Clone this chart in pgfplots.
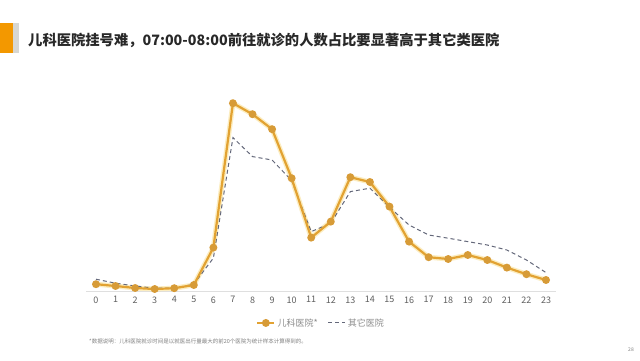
\documentclass[border=0pt]{standalone}
\usepackage{pgfplots}
\pgfplotsset{compat=1.18}
\usepackage{fontspec}
\setmainfont{Noto Sans CJK SC}
\definecolor{ped}{RGB}{226,162,50}
\definecolor{pedmark}{RGB}{215,155,55}
\definecolor{pedglow}{RGB}{250,225,150}
\definecolor{oth}{RGB}{100,104,122}
\definecolor{barorange}{RGB}{243,152,0}
\definecolor{bargray}{RGB}{215,215,210}
\definecolor{txt}{RGB}{40,40,40}
\definecolor{tick}{RGB}{95,95,95}
\begin{document}
\begin{tikzpicture}
\useasboundingbox[fill=white] (0pt,0pt) rectangle (640pt,360pt);
\fill[barorange] (0pt,307pt) rectangle (12.6pt,337.3pt);
\fill[bargray] (13.3pt,307pt) rectangle (19pt,337.3pt);
\node[anchor=west, text=txt, font=\bfseries\fontsize{14.3}{16}\selectfont, inner sep=0pt] at (28pt,320pt) {儿科医院挂号难，07:00-08:00前往就诊的人数占比要显著高于其它类医院};
\node[anchor=west, text=gray, font=\fontsize{5.5}{6}\selectfont, inner sep=0pt] at (89pt,19pt) {*数据说明：儿科医院就诊时间是以就医出行量最大的前20个医院为统计样本计算得到的。};
\node[anchor=center, text=gray, font=\fontsize{5}{6}\selectfont, inner sep=0pt] at (631pt,10pt) {28};
\begin{axis}[
  at={(86.2pt,69pt)}, anchor=south west, scale only axis,
  width=469.6pt, height=196pt,
  xmin=-0.5, xmax=23.5, ymin=0, ymax=9.8,
  axis x line=bottom, axis y line=none,
  axis line style={draw=gray!25, -},
  xtick={0,...,23}, major tick length=0pt,
  ticklabel style={font=\fontsize{9}{10}\selectfont, text=tick},
  /pgf/number format/assume math mode=true,
  xticklabel style={yshift=-2pt},
  legend style={at={(0.5,-0.163)}, anchor=center, draw=none, fill=none,
    legend columns=2, font=\fontsize{9}{10}\selectfont, text=gray!90,
    /tikz/every even column/.append style={column sep=8pt}},
  legend cell align=left,
  clip=false,
]
\addplot[pedglow, opacity=0.6, line width=5, forget plot] coordinates {
(0,0.34) (1,0.25) (2,0.15) (3,0.10) (4,0.14) (5,0.30) (6,2.17) (7,9.39) (8,8.84) (9,8.09) (10,5.64) (11,2.67) (12,3.47) (13,5.69) (14,5.45) (15,4.22) (16,2.47) (17,1.69) (18,1.60) (19,1.80) (20,1.55) (21,1.17) (22,0.84) (23,0.55)};
\addplot[oth, dash pattern=on 4pt off 3pt, line width=1.0, forget plot] coordinates {
(0,0.59) (1,0.39) (2,0.25) (3,0.14) (4,0.14) (5,0.34) (6,1.65) (7,7.67) (8,6.72) (9,6.55) (10,5.52) (11,2.97) (12,3.39) (13,4.97) (14,5.14) (15,4.19) (16,3.30) (17,2.80) (18,2.64) (19,2.47) (20,2.30) (21,2.05) (22,1.55) (23,0.92)};
\addplot[ped, line width=2.2, mark=*, mark size=2.8, mark options={fill=pedmark, draw=pedmark}] coordinates {
(0,0.34) (1,0.25) (2,0.15) (3,0.10) (4,0.14) (5,0.30) (6,2.17) (7,9.39) (8,8.84) (9,8.09) (10,5.64) (11,2.67) (12,3.47) (13,5.69) (14,5.45) (15,4.22) (16,2.47) (17,1.69) (18,1.60) (19,1.80) (20,1.55) (21,1.17) (22,0.84) (23,0.55)};
\addlegendentry{儿科医院*}
\addlegendimage{oth, dash pattern=on 4pt off 3pt, line width=1.0}
\addlegendentry{其它医院}
\end{axis}
\end{tikzpicture}
\end{document}
